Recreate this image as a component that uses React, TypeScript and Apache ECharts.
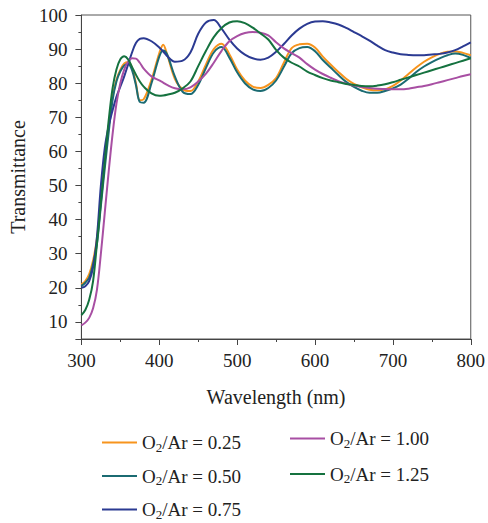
import React, { useEffect, useRef } from 'react';
import * as echarts from 'echarts';

const wavelength = [300, 305, 310, 315, 320, 325, 330, 335, 340, 345, 350, 355, 360, 365, 370, 375, 380, 390, 400, 405, 410, 420, 430, 440, 450, 460, 470, 480, 490, 500, 510, 520, 530, 540, 550, 560, 570, 580, 590, 600, 610, 620, 630, 640, 650, 660, 670, 680, 690, 700, 710, 720, 730, 740, 750, 760, 770, 780, 790, 800];

const ratio025 = [21, 22, 24, 28, 34.5, 46, 57, 67, 76, 81, 84, 85.8, 86.2, 84.5, 80, 75, 75.3, 81, 88.8, 91.3, 88.5, 81.3, 78.2, 77.7, 80.5, 85.5, 90, 91.6, 88.5, 84, 80.8, 79, 78.6, 79.5, 81.5, 86, 90.3, 91.4, 91.6, 90.5, 87.8, 85.5, 83.3, 81.3, 79.8, 78.8, 78.1, 77.9, 78.2, 79.2, 80.8, 82.7, 84.6, 86.3, 87.6, 88.6, 89.2, 89.3, 88.9, 88.2];
const ratio050 = [20.5, 21.5, 23, 27, 33, 44, 55, 65.5, 75, 80.5, 83.5, 85.2, 85.6, 83.8, 79.5, 74.5, 74.3, 80, 87.8, 89.6, 88.5, 82, 77.5, 76.8, 79.5, 84.5, 89, 90.6, 87.5, 83.2, 80, 78.2, 77.7, 78.6, 80.8, 84.8, 88.8, 90.3, 90.6, 89.4, 86.8, 84.6, 82.4, 80.4, 78.9, 77.8, 77.2, 77.2, 77.7, 78.5, 79.6, 81.3, 83.3, 84.9, 86.2, 87.3, 88.2, 88.7, 88.3, 87.4];
const ratio075 = [20, 20.5, 22, 26, 35, 50, 61, 67.5, 72, 76, 79, 82, 85.5, 89, 91.8, 93, 93.2, 92.3, 90.5, 89.3, 88, 86.3, 86.6, 89, 94.5, 97.8, 98.5, 96, 92.8, 90.2, 88.4, 87.3, 86.9, 87.5, 89.2, 91.5, 94, 96, 97.4, 98.1, 98.2, 97.8, 97.2, 96.2, 95, 93.8, 92.5, 91, 89.7, 89, 88.5, 88.3, 88.2, 88.2, 88.4, 88.6, 89, 89.7, 90.8, 92];
const ratio100 = [9, 9.8, 11.2, 14, 19.5, 30, 42, 54, 65, 74, 80, 84, 86.3, 87.3, 87.2, 86, 84.3, 82, 80.8, 80.2, 79.5, 78.5, 78.2, 78.8, 80.5, 82.8, 86, 89.5, 92.3, 93.8, 94.7, 95, 94.8, 94, 92, 90.2, 88.8, 87.5, 85.6, 84, 82.7, 81.6, 80.6, 79.9, 79.3, 78.9, 78.6, 78.4, 78.3, 78.2, 78.2, 78.4, 78.8, 79.2, 79.7, 80.3, 80.9, 81.5, 82.1, 82.6];
const ratio125 = [12, 13.5, 16.5, 22, 33, 45, 57, 69, 78.5, 84, 87, 87.9, 87, 84.8, 82.5, 80.5, 79, 77, 76.3, 76.4, 76.6, 77.2, 78.5, 80.5, 85, 89.5, 93.5, 96.2, 97.8, 98.2, 97.6, 96.3, 94.6, 92.8, 89.8, 87.5, 86, 84.9, 83.4, 82.4, 81.5, 80.8, 80.3, 79.8, 79.5, 79.2, 79.1, 79.3, 79.7, 80.3, 81, 81.7, 82.4, 83.1, 83.8, 84.5, 85.2, 85.9, 86.6, 87.3];

const seriesNames = ['O2/Ar = 0.25', 'O2/Ar = 0.50', 'O2/Ar = 0.75', 'O2/Ar = 1.00', 'O2/Ar = 1.25'];
const seriesValues = [ratio025, ratio050, ratio075, ratio100, ratio125];
const seriesColors = ['#F7941D', '#1B6B72', '#2B3A92', '#A84FA3', '#15723F'];

const xTitle = 'Wavelength (nm)';
const yTitle = 'Transmittance';

const FONT = '"Liberation Serif", "Times New Roman", serif';

export default function App() {
  const ref = useRef<HTMLDivElement>(null);
  useEffect(() => {
    if (!ref.current) return;
    const chart = echarts.init(ref.current, null, { renderer: 'svg' });
    const richText = {
      n: { fontSize: 19, lineHeight: 22, fontFamily: FONT, color: '#222' },
      s: { fontSize: 13, lineHeight: 10, verticalAlign: 'bottom', fontFamily: FONT, color: '#222' },
    };
    const legendFmt = (name: string) => `{n|O}{s|2}{n|${name.slice(2)}}`;
    const legendBase = {
      orient: 'vertical',
      icon: 'rect',
      itemWidth: 35,
      itemHeight: 2,
      padding: 0,
      height: 130,
      formatter: legendFmt,
      textStyle: { rich: richText, fontFamily: FONT, fontSize: 19 },
    };
    chart.setOption({
      animation: false,
      backgroundColor: '#fff',
      textStyle: { fontFamily: FONT },
      grid: {
        left: 75,
        right: 13,
        top: 15,
        bottom: 184,
        show: true,
        borderColor: '#555',
        borderWidth: 1,
        containLabel: false,
      },
      legend: [
        { ...legendBase, left: 102, top: 433, itemGap: 13, data: seriesNames.slice(0, 3) },
        { ...legendBase, left: 290, top: 429, itemGap: 15, data: seriesNames.slice(3) },
      ],
      xAxis: {
        type: 'value',
        min: 300,
        max: 800,
        interval: 100,
        name: xTitle,
        nameLocation: 'middle',
        nameGap: 48,
        nameTextStyle: { fontSize: 20, color: '#222', fontFamily: FONT },
        axisLine: { show: true, lineStyle: { color: '#444', width: 1 } },
        axisTick: { show: true, length: 6, lineStyle: { color: '#444' } },
        minorTick: { show: true, splitNumber: 2, length: 3, lineStyle: { color: '#444' } },
        axisLabel: { fontSize: 19, color: '#222', margin: 12, fontFamily: FONT },
        splitLine: { show: false },
      },
      yAxis: {
        type: 'value',
        min: 5,
        max: 100,
        splitNumber: 10,
        name: yTitle,
        nameLocation: 'middle',
        nameGap: 41,
        nameTextStyle: { fontSize: 20, color: '#222', fontFamily: FONT },
        axisLine: { show: true, lineStyle: { color: '#444', width: 1 } },
        axisTick: { show: true, length: 6, lineStyle: { color: '#444' } },
        minorTick: { show: true, splitNumber: 2, length: 3, lineStyle: { color: '#444' } },
        axisLabel: {
          fontSize: 19,
          color: '#222',
          margin: 14,
          fontFamily: FONT,
          showMinLabel: false,
          formatter: (v: number) => (v % 10 === 0 ? String(v) : ''),
        },
        splitLine: { show: false },
      },
      series: seriesNames.map((name, i) => ({
        name,
        type: 'line',
        data: wavelength.map((w, j) => [w, seriesValues[i][j]]),
        smooth: 0.35,
        symbol: 'none',
        color: seriesColors[i],
        lineStyle: { width: 2, color: seriesColors[i] },
      })),
    });
    return () => chart.dispose();
  }, []);
  return <div ref={ref} style={{ position: 'fixed', left: 0, top: 0, width: 488, height: 523 }} />;
}
